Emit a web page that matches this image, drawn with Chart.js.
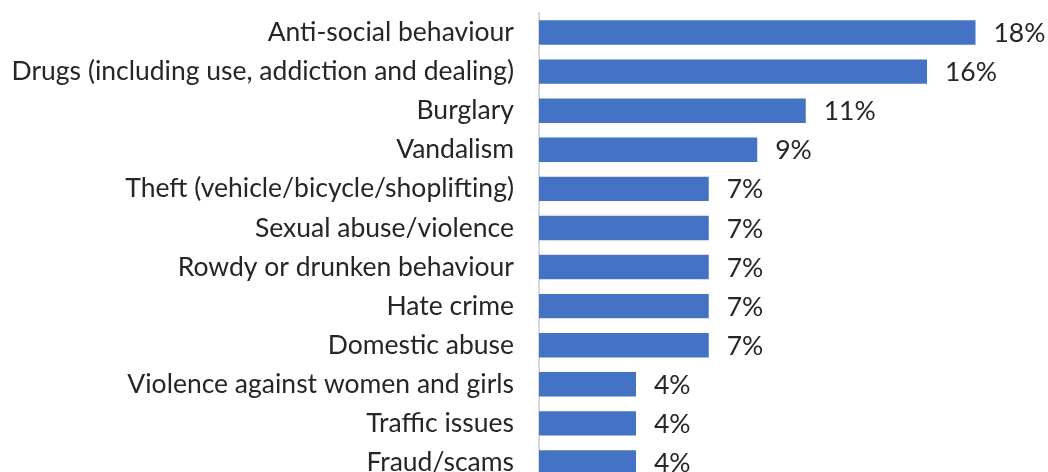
<!DOCTYPE html>
<html>
<head>
<meta charset="utf-8">
<script src="https://cdn.jsdelivr.net/npm/chart.js@4/dist/chart.umd.min.js"></script>
<style>
  html, body { margin: 0; padding: 0; background: #ffffff; overflow: hidden; }
  #wrap { position: relative; width: 1048px; height: 482px; }
</style>
</head>
<body>
<div id="wrap"><canvas id="chart" width="1048" height="482"></canvas></div>
<script>
// Most commonly reported crime and anti-social behaviour issues (% of respondents)
const categories = [
  'Anti-social behaviour',
  'Drugs (including use, addiction and dealing)',
  'Burglary',
  'Vandalism',
  'Theft (vehicle/bicycle/shoplifting)',
  'Sexual abuse/violence',
  'Rowdy or drunken behaviour',
  'Hate crime',
  'Domestic abuse',
  'Violence against women and girls',
  'Traffic issues',
  'Fraud/scams'
];
const percentages = [18, 16, 11, 9, 7, 7, 7, 7, 7, 4, 4, 4];

const FONT = 'Lato, "Open Sans", sans-serif';
const FONT_SIZE = 26.5;
const TEXT = '#262626';

// Writes the percentage just past the end of each bar
const barValueLabels = {
  id: 'barValueLabels',
  afterDatasetsDraw(chart) {
    const ctx = chart.ctx;
    const meta = chart.getDatasetMeta(0);
    ctx.save();
    ctx.font = FONT_SIZE + 'px ' + FONT;
    ctx.fillStyle = TEXT;
    ctx.textAlign = 'left';
    ctx.textBaseline = 'middle';
    meta.data.forEach((bar, i) => {
      ctx.fillText(percentages[i] + '%', bar.x + 18, bar.y + 1);
    });
    ctx.restore();
  }
};

new Chart(document.getElementById('chart'), {
  type: 'bar',
  data: {
    labels: categories,
    datasets: [{
      data: percentages,
      backgroundColor: '#4472C4',
      borderWidth: 0,
      categoryPercentage: 1,
      barPercentage: 0.625
    }]
  },
  options: {
    indexAxis: 'y',
    responsive: false,
    animation: false,
    layout: { padding: { top: 13, right: 24, bottom: 0, left: 0 } },
    plugins: {
      legend: { display: false },
      tooltip: { enabled: false }
    },
    scales: {
      x: {
        display: false,
        min: 0,
        max: 20
      },
      y: {
        grid: { display: false, drawTicks: false },
        border: { display: true, color: '#D9D9D9', width: 2 },
        ticks: {
          color: TEXT,
          font: { family: FONT, size: FONT_SIZE },
          padding: 25,
          autoSkip: false
        },
        afterFit(scale) {
          scale.width = 539;
          scale.paddingTop = 0;
          scale.paddingBottom = 0;
        }
      }
    }
  },
  plugins: [barValueLabels]
});
</script>
</body>
</html>
